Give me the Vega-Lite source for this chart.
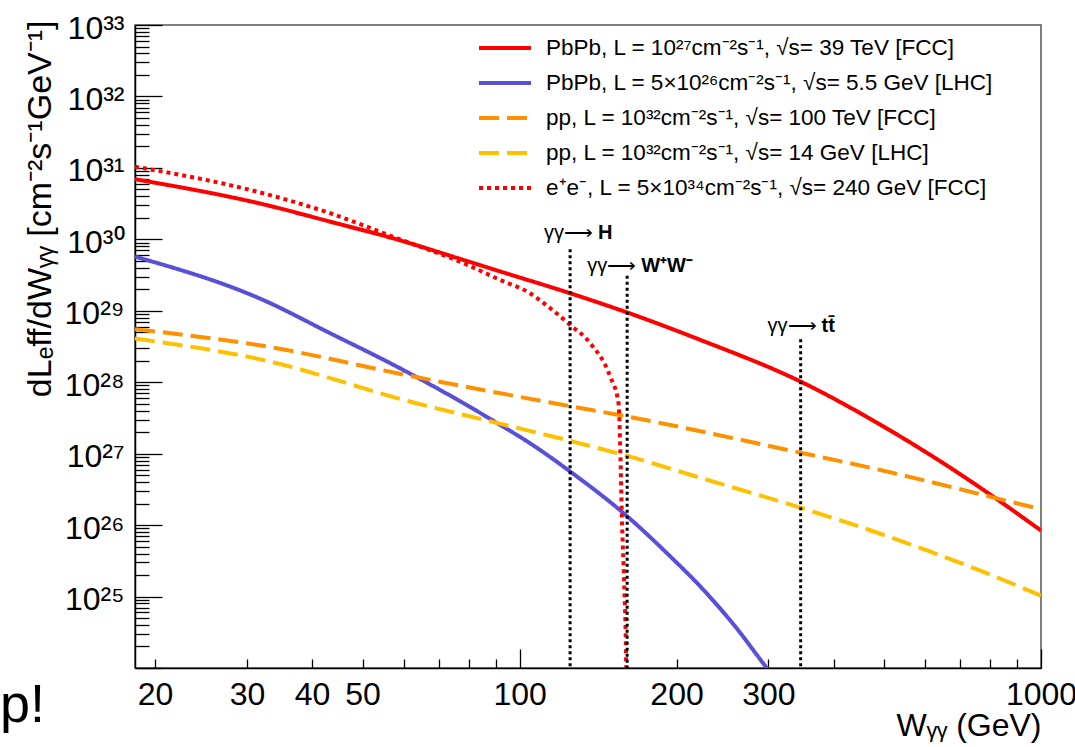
{
  "$schema": "https://vega.github.io/schema/vega-lite/v6.json",
  "width": 906,
  "height": 643,
  "autosize": "none",
  "padding": {"left": 135, "top": 25, "right": 34, "bottom": 79},
  "background": "white",
  "config": {
    "view": {"stroke": "#555", "strokeWidth": 1.5},
    "font": "Liberation Sans"
  },
  "title": {"text": "p!", "orient": "top", "anchor": "start", "frame": "group", "dx": -135, "dy": 764, "fontSize": 54, "fontWeight": "normal", "font": "Liberation Sans", "color": "#000", "baseline": "alphabetic", "offset": 0},
  "datasets": {
    "curves": [
      {"series": "PbPb, L = 10²⁷cm⁻²s⁻¹, √s= 39 TeV [FCC]", "w": 18.3, "lumi": 6.94e30},
      {"series": "PbPb, L = 10²⁷cm⁻²s⁻¹, √s= 39 TeV [FCC]", "w": 32.2, "lumi": 3.1e30},
      {"series": "PbPb, L = 10²⁷cm⁻²s⁻¹, √s= 39 TeV [FCC]", "w": 43.3, "lumi": 1.77e30},
      {"series": "PbPb, L = 10²⁷cm⁻²s⁻¹, √s= 39 TeV [FCC]", "w": 58.1, "lumi": 1.0e30},
      {"series": "PbPb, L = 10²⁷cm⁻²s⁻¹, √s= 39 TeV [FCC]", "w": 78.0, "lumi": 5.16e29},
      {"series": "PbPb, L = 10²⁷cm⁻²s⁻¹, √s= 39 TeV [FCC]", "w": 91.7, "lumi": 3.56e29},
      {"series": "PbPb, L = 10²⁷cm⁻²s⁻¹, √s= 39 TeV [FCC]", "w": 125, "lumi": 1.76e29},
      {"series": "PbPb, L = 10²⁷cm⁻²s⁻¹, √s= 39 TeV [FCC]", "w": 161, "lumi": 9.44e28},
      {"series": "PbPb, L = 10²⁷cm⁻²s⁻¹, √s= 39 TeV [FCC]", "w": 222, "lumi": 3.92e28},
      {"series": "PbPb, L = 10²⁷cm⁻²s⁻¹, √s= 39 TeV [FCC]", "w": 346, "lumi": 1.02e28},
      {"series": "PbPb, L = 10²⁷cm⁻²s⁻¹, √s= 39 TeV [FCC]", "w": 492, "lumi": 2.54e27},
      {"series": "PbPb, L = 10²⁷cm⁻²s⁻¹, √s= 39 TeV [FCC]", "w": 614, "lumi": 9.55e26},
      {"series": "PbPb, L = 10²⁷cm⁻²s⁻¹, √s= 39 TeV [FCC]", "w": 690, "lumi": 5.52e26},
      {"series": "PbPb, L = 10²⁷cm⁻²s⁻¹, √s= 39 TeV [FCC]", "w": 812, "lumi": 2.47e26},
      {"series": "PbPb, L = 10²⁷cm⁻²s⁻¹, √s= 39 TeV [FCC]", "w": 1000, "lumi": 8.4e25},

      {"series": "PbPb, L = 5×10²⁶cm⁻²s⁻¹, √s= 5.5 GeV [LHC]", "w": 18.3, "lumi": 5.73e29},
      {"series": "PbPb, L = 5×10²⁶cm⁻²s⁻¹, √s= 5.5 GeV [LHC]", "w": 32.2, "lumi": 1.42e29},
      {"series": "PbPb, L = 5×10²⁶cm⁻²s⁻¹, √s= 5.5 GeV [LHC]", "w": 43.3, "lumi": 4.86e28},
      {"series": "PbPb, L = 5×10²⁶cm⁻²s⁻¹, √s= 5.5 GeV [LHC]", "w": 58.1, "lumi": 1.66e28},
      {"series": "PbPb, L = 5×10²⁶cm⁻²s⁻¹, √s= 5.5 GeV [LHC]", "w": 78.0, "lumi": 5.1e27},
      {"series": "PbPb, L = 5×10²⁶cm⁻²s⁻¹, √s= 5.5 GeV [LHC]", "w": 90.4, "lumi": 2.7e27},
      {"series": "PbPb, L = 5×10²⁶cm⁻²s⁻¹, √s= 5.5 GeV [LHC]", "w": 104.7, "lumi": 1.4e27},
      {"series": "PbPb, L = 5×10²⁶cm⁻²s⁻¹, √s= 5.5 GeV [LHC]", "w": 125, "lumi": 5.63e26},
      {"series": "PbPb, L = 5×10²⁶cm⁻²s⁻¹, √s= 5.5 GeV [LHC]", "w": 161, "lumi": 1.32e26},
      {"series": "PbPb, L = 5×10²⁶cm⁻²s⁻¹, √s= 5.5 GeV [LHC]", "w": 194.5, "lumi": 3.65e25},
      {"series": "PbPb, L = 5×10²⁶cm⁻²s⁻¹, √s= 5.5 GeV [LHC]", "w": 222, "lumi": 1.39e25},
      {"series": "PbPb, L = 5×10²⁶cm⁻²s⁻¹, √s= 5.5 GeV [LHC]", "w": 260, "lumi": 3.7e24},
      {"series": "PbPb, L = 5×10²⁶cm⁻²s⁻¹, √s= 5.5 GeV [LHC]", "w": 298, "lumi": 1.0e24},
      {"series": "PbPb, L = 5×10²⁶cm⁻²s⁻¹, √s= 5.5 GeV [LHC]", "w": 330, "lumi": 4.0e23},

      {"series": "pp, L = 10³²cm⁻²s⁻¹, √s= 100 TeV [FCC]", "w": 18.3, "lumi": 5.53e28},
      {"series": "pp, L = 10³²cm⁻²s⁻¹, √s= 100 TeV [FCC]", "w": 32.2, "lumi": 3.23e28},
      {"series": "pp, L = 10³²cm⁻²s⁻¹, √s= 100 TeV [FCC]", "w": 62.6, "lumi": 1.2e28},
      {"series": "pp, L = 10³²cm⁻²s⁻¹, √s= 100 TeV [FCC]", "w": 114.4, "lumi": 5.2e27},
      {"series": "pp, L = 10³²cm⁻²s⁻¹, √s= 100 TeV [FCC]", "w": 161, "lumi": 3.31e27},
      {"series": "pp, L = 10³²cm⁻²s⁻¹, √s= 100 TeV [FCC]", "w": 346, "lumi": 1.03e27},
      {"series": "pp, L = 10³²cm⁻²s⁻¹, √s= 100 TeV [FCC]", "w": 492, "lumi": 5.9e26},
      {"series": "pp, L = 10³²cm⁻²s⁻¹, √s= 100 TeV [FCC]", "w": 614, "lumi": 4.02e26},
      {"series": "pp, L = 10³²cm⁻²s⁻¹, √s= 100 TeV [FCC]", "w": 765, "lumi": 2.7e26},
      {"series": "pp, L = 10³²cm⁻²s⁻¹, √s= 100 TeV [FCC]", "w": 1000, "lumi": 1.67e26},

      {"series": "pp, L = 10³²cm⁻²s⁻¹, √s= 14 GeV [LHC]", "w": 18.3, "lumi": 4.08e28},
      {"series": "pp, L = 10³²cm⁻²s⁻¹, √s= 14 GeV [LHC]", "w": 32.2, "lumi": 2.05e28},
      {"series": "pp, L = 10³²cm⁻²s⁻¹, √s= 14 GeV [LHC]", "w": 62.6, "lumi": 5.2e27},
      {"series": "pp, L = 10³²cm⁻²s⁻¹, √s= 14 GeV [LHC]", "w": 90.4, "lumi": 2.7e27},
      {"series": "pp, L = 10³²cm⁻²s⁻¹, √s= 14 GeV [LHC]", "w": 125, "lumi": 1.51e27},
      {"series": "pp, L = 10³²cm⁻²s⁻¹, √s= 14 GeV [LHC]", "w": 161, "lumi": 9.3e26},
      {"series": "pp, L = 10³²cm⁻²s⁻¹, √s= 14 GeV [LHC]", "w": 222, "lumi": 4.6e26},
      {"series": "pp, L = 10³²cm⁻²s⁻¹, √s= 14 GeV [LHC]", "w": 346, "lumi": 1.75e26},
      {"series": "pp, L = 10³²cm⁻²s⁻¹, √s= 14 GeV [LHC]", "w": 492, "lumi": 7.57e25},
      {"series": "pp, L = 10³²cm⁻²s⁻¹, √s= 14 GeV [LHC]", "w": 614, "lumi": 4.24e25},
      {"series": "pp, L = 10³²cm⁻²s⁻¹, √s= 14 GeV [LHC]", "w": 765, "lumi": 2.3e25},
      {"series": "pp, L = 10³²cm⁻²s⁻¹, √s= 14 GeV [LHC]", "w": 1000, "lumi": 1.03e25},

      {"series": "e⁺e⁻, L = 5×10³⁴cm⁻²s⁻¹, √s= 240 GeV [FCC]", "w": 18.3, "lumi": 1.04e31},
      {"series": "e⁺e⁻, L = 5×10³⁴cm⁻²s⁻¹, √s= 240 GeV [FCC]", "w": 32.2, "lumi": 4.42e30},
      {"series": "e⁺e⁻, L = 5×10³⁴cm⁻²s⁻¹, √s= 240 GeV [FCC]", "w": 43.3, "lumi": 2.32e30},
      {"series": "e⁺e⁻, L = 5×10³⁴cm⁻²s⁻¹, √s= 240 GeV [FCC]", "w": 58.1, "lumi": 1.04e30},
      {"series": "e⁺e⁻, L = 5×10³⁴cm⁻²s⁻¹, √s= 240 GeV [FCC]", "w": 78.0, "lumi": 4.64e29},
      {"series": "e⁺e⁻, L = 5×10³⁴cm⁻²s⁻¹, √s= 240 GeV [FCC]", "w": 91.7, "lumi": 2.71e29},
      {"series": "e⁺e⁻, L = 5×10³⁴cm⁻²s⁻¹, √s= 240 GeV [FCC]", "w": 104.7, "lumi": 1.76e29},
      {"series": "e⁺e⁻, L = 5×10³⁴cm⁻²s⁻¹, √s= 240 GeV [FCC]", "w": 114.4, "lumi": 1.09e29},
      {"series": "e⁺e⁻, L = 5×10³⁴cm⁻²s⁻¹, √s= 240 GeV [FCC]", "w": 125, "lumi": 6.35e28},
      {"series": "e⁺e⁻, L = 5×10³⁴cm⁻²s⁻¹, √s= 240 GeV [FCC]", "w": 136.6, "lumi": 3.52e28},
      {"series": "e⁺e⁻, L = 5×10³⁴cm⁻²s⁻¹, √s= 240 GeV [FCC]", "w": 149.2, "lumi": 1.2e28},
      {"series": "e⁺e⁻, L = 5×10³⁴cm⁻²s⁻¹, √s= 240 GeV [FCC]", "w": 154.8, "lumi": 5.1e27},
      {"series": "e⁺e⁻, L = 5×10³⁴cm⁻²s⁻¹, √s= 240 GeV [FCC]", "w": 156.0, "lumi": 1.13e27},
      {"series": "e⁺e⁻, L = 5×10³⁴cm⁻²s⁻¹, √s= 240 GeV [FCC]", "w": 157.1, "lumi": 1.32e26},
      {"series": "e⁺e⁻, L = 5×10³⁴cm⁻²s⁻¹, √s= 240 GeV [FCC]", "w": 158.7, "lumi": 1.55e25},
      {"series": "e⁺e⁻, L = 5×10³⁴cm⁻²s⁻¹, √s= 240 GeV [FCC]", "w": 160.1, "lumi": 1.05e24},
      {"series": "e⁺e⁻, L = 5×10³⁴cm⁻²s⁻¹, √s= 240 GeV [FCC]", "w": 160.4, "lumi": 1.0e23}
    ],
    "markers": [
      {"w": 125, "lumi": 7.28e29, "bottom": 1e24},
      {"w": 160.8, "lumi": 3.08e29, "bottom": 1e24},
      {"w": 346, "lumi": 4.0e28, "bottom": 1e24}
    ],
    "labels": [
      {"w": 111.4, "lumi": 1.01e30, "pre": "γγ⟶", "post": "H"},
      {"w": 134.8, "lumi": 3.5e29, "pre": "γγ⟶", "post": "W⁺W⁻"},
      {"w": 299, "lumi": 5.12e28, "pre": "γγ⟶", "post": "tt̄"}
    ]
  },
  "encoding": {
    "x": {
      "field": "w", "type": "quantitative",
      "scale": {"type": "log", "domain": [18.3, 1000], "nice": false},
      "axis": {
        "values": [20, 30, 40, 50, 60, 70, 80, 90, 100, 200, 300, 400, 500, 600, 700, 800, 900, 1000],
        "labelExpr": "indexof([20,30,40,50,100,200,300,1000], datum.value) >= 0 ? datum.value + '' : ''",
        "tickSize": {"condition": {"test": "datum.value == 100 || datum.value == 1000", "value": -19}, "value": -9},
        "labelPadding": {"condition": {"test": "datum.value == 100 || datum.value == 1000", "value": 30}, "value": 20},
        "tickColor": "#000", "tickWidth": 1.3,
        "domainColor": "#000", "domainWidth": 1.5,
        "labelFontSize": 32, "labelFont": "Liberation Sans", "labelColor": "#000",
        "labelOverlap": false, "labelFlush": false, "labelBound": false,
        "grid": false,
        "title": "Wᵧᵧ (GeV)", "titleFontSize": 32, "titleFont": "Liberation Sans", "titleFontWeight": "normal", "titleColor": "#000",
        "titleAnchor": "end", "titleAlign": "right", "titleBaseline": "alphabetic", "titleX": 906, "titleY": 67
      }
    },
    "y": {
      "field": "lumi", "type": "quantitative",
      "scale": {"type": "log", "domain": [1e24, 1e33], "nice": false},
      "axis": {
        "values": [1e24,2e24,3e24,4e24,5e24,6e24,7e24,8e24,9e24,1e25,2e25,3e25,4e25,5e25,6e25,7e25,8e25,9e25,1e26,2e26,3e26,4e26,5e26,6e26,7e26,8e26,9e26,1e27,2e27,3e27,4e27,5e27,6e27,7e27,8e27,9e27,1e28,2e28,3e28,4e28,5e28,6e28,7e28,8e28,9e28,1e29,2e29,3e29,4e29,5e29,6e29,7e29,8e29,9e29,1e30,2e30,3e30,4e30,5e30,6e30,7e30,8e30,9e30,1e31,2e31,3e31,4e31,5e31,6e31,7e31,8e31,9e31,1e32,2e32,3e32,4e32,5e32,6e32,7e32,8e32,9e32,1e33],
        "labelExpr": "(abs(log(datum.value)/LN10 - round(log(datum.value)/LN10)) < 0.001 && round(log(datum.value)/LN10) > 24) ? '10' + ['⁰','¹','²','³','⁴','⁵','⁶','⁷','⁸','⁹'][floor(round(log(datum.value)/LN10)/10)] + ['⁰','¹','²','³','⁴','⁵','⁶','⁷','⁸','⁹'][round(log(datum.value)/LN10)%10] : ''",
        "tickSize": {"condition": {"test": "abs(log(datum.value)/LN10 - round(log(datum.value)/LN10)) < 0.001", "value": -27}, "value": -14},
        "labelPadding": {"condition": {"test": "abs(log(datum.value)/LN10 - round(log(datum.value)/LN10)) < 0.001", "value": 38}, "value": 25},
        "labelOffset": 3,
        "tickColor": "#000", "tickWidth": 1.3,
        "domainColor": "#000", "domainWidth": 1.5,
        "labelFontSize": 32, "labelFont": "Liberation Sans", "labelColor": "#000",
        "labelOverlap": false, "labelFlush": false, "labelBound": false,
        "grid": false,
        "title": "dLₑff/dWᵧᵧ [cm⁻²s⁻¹GeV⁻¹]", "titleFontSize": 34, "titleFont": "Liberation Sans", "titleFontWeight": "normal", "titleColor": "#000",
        "titleAnchor": "end", "titleAlign": "right", "titleBaseline": "alphabetic", "titleAngle": 270, "titleX": -85, "titleY": -5
      }
    }
  },
  "layer": [
    {
      "data": {"name": "curves"},
      "mark": {"type": "line", "clip": true, "strokeWidth": 4, "interpolate": "monotone"},
      "encoding": {
        "color": {
          "field": "series", "type": "nominal",
          "scale": {
            "domain": ["PbPb, L = 10²⁷cm⁻²s⁻¹, √s= 39 TeV [FCC]", "PbPb, L = 5×10²⁶cm⁻²s⁻¹, √s= 5.5 GeV [LHC]", "pp, L = 10³²cm⁻²s⁻¹, √s= 100 TeV [FCC]", "pp, L = 10³²cm⁻²s⁻¹, √s= 14 GeV [LHC]", "e⁺e⁻, L = 5×10³⁴cm⁻²s⁻¹, √s= 240 GeV [FCC]"],
            "range": ["#ff0000", "#5a50d8", "#ff9100", "#ffc000", "#ff0000"]
          },
          "legend": {"orient": "none", "legendX": 355, "legendY": 8, "title": null, "labelFontSize": 22.5, "labelFont": "Liberation Sans", "labelColor": "#000", "labelLimit": 0, "symbolType": "M-2,0L2,0", "symbolSize": 676, "symbolStrokeWidth": 4, "labelOffset": 26, "rowPadding": 8, "padding": 0}
        },
        "strokeDash": {
          "field": "series", "type": "nominal",
          "scale": {
            "domain": ["PbPb, L = 10²⁷cm⁻²s⁻¹, √s= 39 TeV [FCC]", "PbPb, L = 5×10²⁶cm⁻²s⁻¹, √s= 5.5 GeV [LHC]", "pp, L = 10³²cm⁻²s⁻¹, √s= 100 TeV [FCC]", "pp, L = 10³²cm⁻²s⁻¹, √s= 14 GeV [LHC]", "e⁺e⁻, L = 5×10³⁴cm⁻²s⁻¹, √s= 240 GeV [FCC]"],
            "range": [[1, 0], [1, 0], [20, 8], [20, 8], [4, 4]]
          },
          "legend": {"orient": "none", "legendX": 355, "legendY": 8, "title": null, "labelFontSize": 22.5, "labelFont": "Liberation Sans", "labelColor": "#000", "labelLimit": 0, "symbolType": "M-2,0L2,0", "symbolSize": 676, "symbolStrokeWidth": 4, "labelOffset": 26, "rowPadding": 8, "padding": 0}
        }
      }
    },
    {
      "data": {"name": "markers"},
      "mark": {"type": "rule", "color": "#000", "strokeWidth": 3, "strokeDash": [3, 3]},
      "encoding": {"y2": {"field": "bottom"}}
    },
    {
      "data": {"name": "labels"},
      "mark": {"type": "text", "align": "left", "baseline": "alphabetic", "fontSize": 20, "font": "Liberation Sans", "color": "#000"},
      "encoding": {"text": {"field": "pre"}}
    },
    {
      "data": {"name": "labels"},
      "mark": {"type": "text", "align": "left", "baseline": "alphabetic", "fontSize": 20, "font": "Liberation Sans", "fontWeight": "bold", "color": "#000", "dx": 54},
      "encoding": {"text": {"field": "post"}}
    }
  ]
}
